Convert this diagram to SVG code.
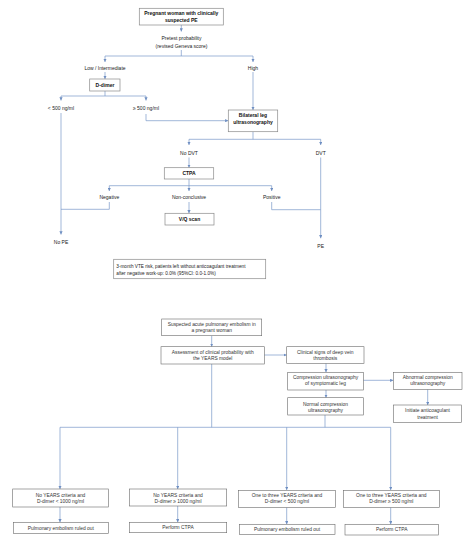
<svg xmlns="http://www.w3.org/2000/svg" width="474" height="548" viewBox="0 0 474 548">
<defs>
<marker id="ah" viewBox="0 0 6 6" refX="6" refY="3" markerWidth="3.2" markerHeight="3.2" orient="auto" markerUnits="userSpaceOnUse">
<path d="M0,0 L6,3 L0,6 z" fill="#6f8fc2"/>
</marker>
<style>
.ln{fill:none;stroke:#7898c8;stroke-width:0.7}
.ar{fill:none;stroke:#7898c8;stroke-width:0.7;marker-end:url(#ah)}
.bx{fill:#fff;stroke:#8a8a8a;stroke-width:0.7}
.bx2{fill:#fff;stroke:#6a6a6a;stroke-width:0.6}
.tb{font-family:"Liberation Sans",Arial,sans-serif;font-size:5px;font-weight:bold;fill:#111;text-anchor:middle}
.tn{font-family:"Liberation Sans",Arial,sans-serif;font-size:5px;fill:#222;text-anchor:middle}
.tl{font-family:"Liberation Sans",Arial,sans-serif;font-size:4.7px;fill:#222}
.tc{font-family:"Liberation Sans",Arial,sans-serif;font-size:4.9px;fill:#333;text-anchor:middle}
</style>
</defs>
<rect width="474" height="548" fill="#fff"/>

<g id="connectors">
<path class="ar" d="M181.3,25 V31.5"/>
<path class="ln" d="M181.3,50 V56 M105,56 H253"/>
<path class="ar" d="M105,56 V62"/>
<path class="ar" d="M253,56 V62"/>
<path class="ar" d="M105,72 V79"/>
<path class="ln" d="M105,91 V96 M61,96 H146"/>
<path class="ar" d="M61,96 V100.5"/>
<path class="ar" d="M146,96 V100.5"/>
<path class="ar" d="M61,113 V234.5"/>
<path class="ar" d="M146,114 V120.7 H228.3"/>
<path class="ar" d="M253,72 V110"/>
<path class="ln" d="M253,131.7 V139.3 M189,139.3 H320.7"/>
<path class="ar" d="M189,139.3 V145"/>
<path class="ar" d="M320.7,139.3 V145"/>
<path class="ar" d="M189,157.5 V167.7"/>
<path class="ln" d="M189,179 V185.7 M109.3,185.7 H271.7"/>
<path class="ar" d="M109.3,185.7 V191"/>
<path class="ar" d="M189,185.7 V191"/>
<path class="ar" d="M271.7,185.7 V191"/>
<path class="ln" d="M109.3,202 V209.3 H61"/>
<path class="ar" d="M189,202 V213.3"/>
<path class="ln" d="M271.7,202 V209.7 H320.7"/>
<path class="ar" d="M320.7,157.5 V238.3"/>

<path class="ar" d="M211.7,335.7 V346.7"/>
<path class="ar" d="M264.3,355 H286.7"/>
<path class="ar" d="M326,363.3 V372.3"/>
<path class="ar" d="M363.3,380.3 H393.3"/>
<path class="ar" d="M427.7,389.3 V405"/>
<path class="ar" d="M326,390 V397.7"/>
<path class="ln" d="M211.7,364 V427.3 M325,415 V427.3 M60,427.3 H390.7"/>
<path class="ar" d="M60,427.3 V489"/>
<path class="ar" d="M177.7,427.3 V489"/>
<path class="ar" d="M286.7,427.3 V490"/>
<path class="ar" d="M390.7,427.3 V490"/>
<path class="ar" d="M60,506 V522.3"/>
<path class="ar" d="M177.7,506 V522.3"/>
<path class="ar" d="M286.7,507.3 V524.3"/>
<path class="ar" d="M390.7,507.3 V524.3"/>
</g>

<g id="n-pregnant">
<rect class="bx" x="139.3" y="8.3" width="84" height="16.7"/>
<text class="tb" x="181.3" y="15.1">Pregnant woman with clinically</text>
<text class="tb" x="181.3" y="21.8">suspected PE</text>
</g>
<g id="n-pretest">
<text class="tn" x="181.5" y="40.1">Pretest probability</text>
<text class="tn" x="181.5" y="47.5">(revised Geneva score)</text>
</g>
<g id="n-low"><text class="tn" x="105" y="70.1">Low / Intermediate</text></g>
<g id="n-high"><text class="tn" x="253" y="70.1">High</text></g>
<g id="n-ddimer">
<rect class="bx" x="89.7" y="79" width="30.3" height="12"/>
<text class="tb" x="105" y="86.8">D-dimer</text>
</g>
<g id="n-lt500"><text class="tn" x="61" y="109.5">&lt; 500 ng/ml</text></g>
<g id="n-ge500"><text class="tn" x="146" y="109.5">≥ 500 ng/ml</text></g>
<g id="n-bilateral">
<rect class="bx" x="228.3" y="110" width="49.4" height="21.7"/>
<text class="tb" x="253" y="116.8">Bilateral leg</text>
<text class="tb" x="253" y="124.1">ultrasonography</text>
</g>
<g id="n-nodvt"><text class="tn" x="189" y="155.1">No DVT</text></g>
<g id="n-dvt"><text class="tn" x="320.7" y="155.1">DVT</text></g>
<g id="n-ctpa">
<rect class="bx" x="164.3" y="167.7" width="49.4" height="11.3"/>
<text class="tb" x="189" y="174.6">CTPA</text>
</g>
<g id="n-negative"><text class="tn" x="109.3" y="199.1">Negative</text></g>
<g id="n-nonconclusive"><text class="tn" x="189" y="199.1">Non-conclusive</text></g>
<g id="n-positive"><text class="tn" x="271.7" y="199.1">Positive</text></g>
<g id="n-vq">
<rect class="bx" x="165" y="213.3" width="49" height="11.7"/>
<text class="tb" x="189.5" y="220.9">V/Q scan</text>
</g>
<g id="n-nope"><text class="tn" x="61" y="243.8">No PE</text></g>
<g id="n-pe"><text class="tn" x="320.7" y="247.5">PE</text></g>
<g id="n-note">
<rect class="bx" x="113.7" y="259.3" width="152" height="19.4"/>
<text class="tl" x="116.3" y="267.7">3-month VTE risk, patients left without anticoagulant treatment</text>
<text class="tl" x="116.3" y="274.7">after negative work-up: 0.0% (95%CI: 0.0-1.0%)</text>
</g>

<g id="n-suspected">
<rect class="bx2" x="161.7" y="319" width="100" height="16.7"/>
<text class="tc" x="211.7" y="325.8">Suspected acute pulmonary embolism in</text>
<text class="tc" x="211.7" y="331.8">a pregnant woman</text>
</g>
<g id="n-assessment">
<rect class="bx2" x="161" y="346.7" width="103.3" height="17.3"/>
<text class="tc" x="212.7" y="353.5">Assessment of clinical probability with</text>
<text class="tc" x="212.7" y="360.1">the YEARS model</text>
</g>
<g id="n-signs">
<rect class="bx2" x="286.7" y="346.7" width="77.3" height="16.6"/>
<text class="tc" x="325.3" y="353.5">Clinical signs of deep vein</text>
<text class="tc" x="325.3" y="360.1">thrombosis</text>
</g>
<g id="n-compression">
<rect class="bx2" x="287.7" y="372.3" width="75.6" height="17.7"/>
<text class="tc" x="325.5" y="378.5">Compression ultrasonography</text>
<text class="tc" x="325.5" y="384.5">of symptomatic leg</text>
</g>
<g id="n-abnormal">
<rect class="bx2" x="393.3" y="372.3" width="68.7" height="17"/>
<text class="tc" x="427.7" y="378.5">Abnormal compression</text>
<text class="tc" x="427.7" y="384.8">ultrasonography</text>
</g>
<g id="n-initiate">
<rect class="bx2" x="393.3" y="405" width="68.4" height="17.3"/>
<text class="tc" x="427.5" y="411.8">Initiate anticoagulant</text>
<text class="tc" x="427.5" y="418.8">treatment</text>
</g>
<g id="n-normal">
<rect class="bx2" x="287.7" y="397.7" width="75.6" height="17.3"/>
<text class="tc" x="325.5" y="405.8">Normal compression</text>
<text class="tc" x="325.5" y="411.8">ultrasonography</text>
</g>

<g id="n-h1">
<rect class="bx2" x="12.7" y="489" width="95.6" height="18"/>
<text class="tc" x="60.5" y="496.8">No YEARS criteria and</text>
<text class="tc" x="60.5" y="502.8">D-dimer &lt; 1000  ng/ml</text>
</g>
<g id="n-h2">
<rect class="bx2" x="129.3" y="489" width="97.4" height="17"/>
<text class="tc" x="178" y="496.8">No YEARS criteria and</text>
<text class="tc" x="178" y="502.8">D-dimer ≥ 1000  ng/ml</text>
</g>
<g id="n-h3">
<rect class="bx2" x="238.5" y="490.5" width="97" height="17"/>
<text class="tc" x="287" y="497.3">One to three YEARS criteria and</text>
<text class="tc" x="287" y="503.3">D-dimer &lt; 500 ng/ml</text>
</g>
<g id="n-h4">
<rect class="bx2" x="343.3" y="490.5" width="96" height="17"/>
<text class="tc" x="391.3" y="497.3">One to three YEARS criteria and</text>
<text class="tc" x="391.3" y="503.3">D-dimer ≥ 500 ng/ml</text>
</g>
<g id="n-r1">
<rect class="bx2" x="13.3" y="522.3" width="95" height="11"/>
<text class="tc" x="60.8" y="529.6">Pulmonary embolism ruled out</text>
</g>
<g id="n-r2">
<rect class="bx2" x="129.3" y="522.3" width="97.4" height="10.4"/>
<text class="tc" x="178" y="529.3">Perform CTPA</text>
</g>
<g id="n-r3">
<rect class="bx2" x="239.3" y="524.3" width="95.7" height="10"/>
<text class="tc" x="287" y="531.1">Pulmonary embolism ruled out</text>
</g>
<g id="n-r4">
<rect class="bx2" x="345" y="524.3" width="93.3" height="10.7"/>
<text class="tc" x="391.7" y="531.4">Perform CTPA</text>
</g>
</svg>
